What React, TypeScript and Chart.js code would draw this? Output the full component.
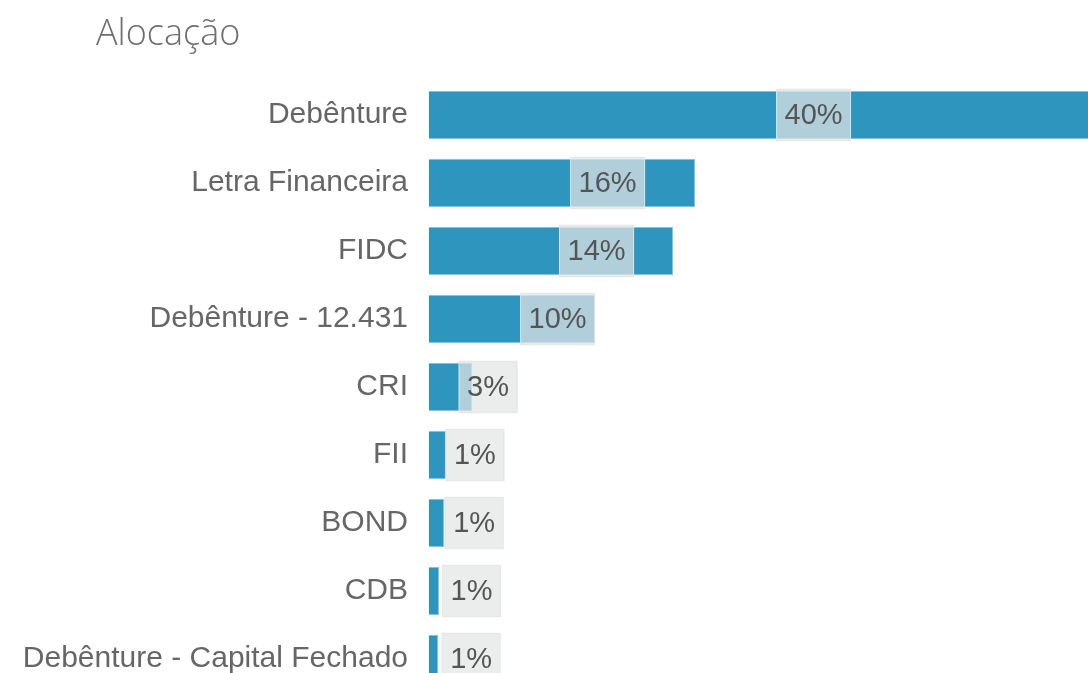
import React, { useEffect, useRef } from "react";
import { Chart, registerables } from "chart.js";

Chart.register(...registerables);

const TITLE = "Alocação";
const categories = [
  "Debênture",
  "Letra Financeira",
  "FIDC",
  "Debênture - 12.431",
  "CRI",
  "FII",
  "BOND",
  "CDB",
  "Debênture - Capital Fechado",
];
const allocation = [40.0, 15.7, 14.4, 9.8, 2.55, 1.0, 0.9, 0.6, 0.55];
const xMax = 40;

const BAR_COLOR = "#2e95bf";
const BAR_BORDER = "#86c3dd";
const TEXT_COLOR = "#666666";
const LABEL_FONT = '"Liberation Sans", Arial, sans-serif';

const titlePlugin = {
  id: "customTitle",
  afterDraw(chart: any) {
    const ctx = chart.ctx;
    ctx.save();
    ctx.font = '300 36px "Open Sans", "Segoe UI", sans-serif';
    ctx.fillStyle = "#6e6e6e";
    ctx.textAlign = "left";
    ctx.textBaseline = "alphabetic";
    ctx.fillText(TITLE, 96, 45);
    ctx.restore();
  },
};

const valueLabelPlugin = {
  id: "valueLabels",
  afterDatasetsDraw(chart: any) {
    const ctx = chart.ctx;
    const meta = chart.getDatasetMeta(0);
    const data = chart.data.datasets[0].data as number[];
    ctx.save();
    ctx.font = `29px ${LABEL_FONT}`;
    meta.data.forEach((bar: any, i: number) => {
      const { x, base, y, height } = bar.getProps(["x", "base", "y", "height"], true);
      const center = (x + base) / 2;
      const text = `${Math.round(data[i])}%`;
      const tw = ctx.measureText(text).width;
      const padX = 8.5;
      const boxW = tw + padX * 2;
      const boxH = height + 4;
      const left = center + 8;
      const top = y - boxH / 2;
      ctx.fillStyle = "rgba(227,230,230,0.72)";
      ctx.fillRect(left, top, boxW, boxH);
      ctx.strokeStyle = "rgba(228,230,230,0.8)";
      ctx.lineWidth = 1;
      ctx.strokeRect(left + 0.5, top + 0.5, boxW - 1, boxH - 1);
      ctx.fillStyle = "#555555";
      ctx.textAlign = "center";
      ctx.textBaseline = "middle";
      ctx.fillText(text, left + boxW / 2, y + 1);
    });
    ctx.restore();
  },
};

export default function App() {
  const canvasRef = useRef<HTMLCanvasElement | null>(null);

  useEffect(() => {
    if (!canvasRef.current) return;
    const chart = new Chart(canvasRef.current, {
      type: "bar",
      data: {
        labels: categories,
        datasets: [
          {
            data: allocation,
            backgroundColor: BAR_COLOR,
            borderColor: BAR_BORDER,
            borderWidth: 1,
            categoryPercentage: 1,
            barPercentage: 0.71,
          },
        ],
      },
      options: {
        indexAxis: "y",
        animation: false,
        responsive: true,
        maintainAspectRatio: false,
        layout: { padding: { top: 81, bottom: 0, left: 0, right: 3 } },
        plugins: {
          legend: { display: false },
          title: { display: false },
          tooltip: { enabled: false },
        },
        scales: {
          x: {
            display: false,
            min: 0,
            max: xMax,
          },
          y: {
            grid: { display: false, drawTicks: false },
            border: { display: false },
            ticks: {
              color: TEXT_COLOR,
              font: { family: LABEL_FONT, size: 30 },
              padding: 21,
              autoSkip: false,
            },
            afterFit(scale: any) {
              scale.width = 429;
            },
          },
        },
      },
      plugins: [valueLabelPlugin, titlePlugin],
    });
    return () => chart.destroy();
  }, []);

  return (
    <div
      style={{
        position: "fixed",
        left: 0,
        top: 0,
        width: 1088,
        height: 673,
        overflow: "hidden",
        background: "#ffffff",
      }}
    >
      <div style={{ position: "absolute", left: 0, top: 0, width: 1110, height: 732 }}>
        <canvas ref={canvasRef} />
      </div>
    </div>
  );
}
